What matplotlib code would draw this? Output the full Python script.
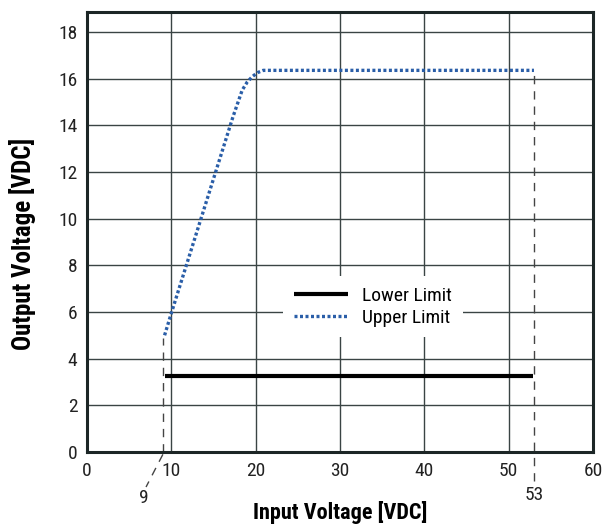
import matplotlib.pyplot as plt
import matplotlib.font_manager as fm

# Data
lower_x = [9.2, 52.9]
lower_y = [3.25, 3.25]

upper_x = [9.2, 10.0, 17.3, 18.4, 19.0, 19.6, 20.2, 20.9, 53.0]
upper_y = [5.0, 5.95, 14.35, 15.5, 15.85, 16.08, 16.25, 16.35, 16.35]

x_ticks = [0, 10, 20, 30, 40, 50, 60]
y_ticks = [0, 2, 4, 6, 8, 10, 12, 14, 16, 18]
min_input = 9
max_input = 53


def pick_font():
    names = {f.name for f in fm.fontManager.ttflist}
    for name in ["Liberation Sans Narrow", "Roboto Condensed", "Liberation Sans", "DejaVu Sans"]:
        if name in names:
            return name
    return "DejaVu Sans"


plt.rcParams["font.family"] = [pick_font(), "DejaVu Sans"]

fig = plt.figure(figsize=(6.03, 5.26), dpi=100)
ax = fig.add_axes([87 / 603, 74 / 526, 506 / 603, 440 / 526])

ax.set_xlim(0, 60)
ax.set_ylim(0, 18.85)
ax.set_xticks(x_ticks)
ax.set_yticks(y_ticks)
ax.tick_params(length=0, labelsize=14, colors="#222222", pad=7)
ax.grid(True, color="#3a4444", linewidth=1.0)
ax.set_axisbelow(True)
for s in ax.spines.values():
    s.set_linewidth(2.2)
    s.set_color("#1c2626")

# reference dashed lines for min / max input
dash = dict(color="#444444", linewidth=1.0, linestyle=(0, (6, 5)), clip_on=False, zorder=2)
ax.plot([min_input, min_input], [0, upper_y[0] - 0.1], **dash)
ax.plot([min_input, 7.0], [-0.1, -1.5], **dash)
ax.plot([max_input, max_input], [-1.25, upper_y[-1]], **dash)
ax.text(6.7, -1.95, str(min_input), ha="center", va="center", fontsize=14,
        color="#222222", clip_on=False)
ax.text(max_input, -1.85, str(max_input), ha="center", va="center", fontsize=14,
        color="#222222", clip_on=False)

ax.plot(lower_x, lower_y, color="black", linewidth=3.0, solid_capstyle="butt",
        label="Lower Limit", zorder=3)
ax.plot(upper_x, upper_y, color="#2a5ea8", linewidth=2.4, linestyle=(0, (0.9, 0.75)),
        label="Upper Limit", zorder=3)

leg = ax.legend(loc="center", bbox_to_anchor=(0.565, 0.33), fontsize=14,
                handlelength=2.8, handletextpad=0.7, frameon=True, fancybox=False,
                framealpha=1, borderpad=0.55, labelspacing=0.2)
leg.get_frame().set_edgecolor("none")
leg.get_frame().set_facecolor("white")

ax.set_xlabel("Input Voltage [VDC]", fontsize=16, fontweight="bold", labelpad=15)
ax.set_ylabel("Output Voltage [VDC]", fontsize=18, fontweight="bold")
ax.yaxis.set_label_coords(-0.1, 0.473)

fig.savefig("out.png", dpi=100)
